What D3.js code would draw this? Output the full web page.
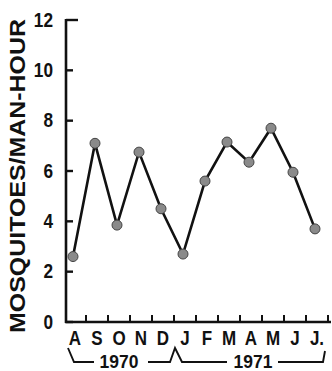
<!DOCTYPE html>
<html>
<head>
<meta charset="utf-8">
<script src="https://cdn.jsdelivr.net/npm/d3@7"></script>
<style>
  body { margin: 0; background: #fff; }
  text { font-family: "Liberation Sans", Arial, sans-serif; fill: #111; }
</style>
</head>
<body>
<script>
const months = ["A", "S", "O", "N", "D", "J", "F", "M", "A", "M", "J", "J."];
const monthKeys = ["Aug70", "Sep70", "Oct70", "Nov70", "Dec70", "Jan71", "Feb71", "Mar71", "Apr71", "May71", "Jun71", "Jul71"];
const mosquitoes = [2.6, 7.1, 3.85, 6.75, 4.5, 2.7, 5.6, 7.15, 6.35, 7.7, 5.95, 3.7];
const yTicks = [0, 2, 4, 6, 8, 10, 12];
const yearLabels = ["1970", "1971"];

const W = 332, H = 371;
const svg = d3.select("body").append("svg").attr("width", W).attr("height", H);

const x = d3.scaleBand().domain(monthKeys).range([64, 328]);
const y = d3.scaleLinear().domain([0, 12]).range([322, 20]);
const ink = "#111";

// y axis
svg.append("line")
  .attr("x1", 66).attr("x2", 66).attr("y1", y(12) - 1).attr("y2", y(0) + 1)
  .attr("stroke", ink).attr("stroke-width", 2.6);
svg.selectAll(".ytick").data(yTicks).enter().append("line")
  .attr("x1", 66).attr("x2", d => d === 12 ? 78 : 73)
  .attr("y1", d => y(d)).attr("y2", d => y(d))
  .attr("stroke", ink).attr("stroke-width", 2.4);
svg.selectAll(".ylab").data(yTicks).enter().append("text")
  .attr("transform", d => "translate(53," + (y(d) - 1) + ") scale(0.82,1)")
  .attr("dy", "0.36em")
  .attr("text-anchor", "end")
  .style("font-size", "21px").style("font-weight", "bold")
  .text(d => d);

// x axis
svg.append("line")
  .attr("x1", 65).attr("x2", 331).attr("y1", y(0)).attr("y2", y(0))
  .attr("stroke", ink).attr("stroke-width", 2.6);
svg.selectAll(".xtick").data(monthKeys).enter().append("line")
  .attr("x1", d => x(d) + x.bandwidth()).attr("x2", d => x(d) + x.bandwidth())
  .attr("y1", y(0)).attr("y2", y(0) - 7)
  .attr("stroke", ink).attr("stroke-width", 2);
svg.selectAll(".xlab").data(monthKeys).enter().append("text")
  .attr("transform", d => "translate(" + (x(d) + x.bandwidth() / 2) + ",345) scale(0.85,1)")
  .attr("text-anchor", "middle")
  .style("font-size", "20px").style("font-weight", "bold")
  .text((d, i) => months[i]);

// year brackets
const bx0 = x(monthKeys[0]) + 4, bmid = x(monthKeys[5]) + 1, bx1 = x(monthKeys[11]) + x.bandwidth() - 3;
const by = 362, btop = 348;
svg.append("path")
  .attr("d", `M${bx0},${btop} L${bx0 + 6},${by} L${bx0 + 26},${by}
              M${bmid - 27},${by} L${bmid - 5},${by} L${bmid},${btop} L${bmid + 7},${by} L${bmid + 52},${by}
              M${bmid + 103},${by} L${bx1 - 2},${by} L${bx1},${btop + 3}`)
  .attr("fill", "none").attr("stroke", ink).attr("stroke-width", 1.9);
svg.selectAll(".year").data(yearLabels).enter().append("text")
  .attr("transform", (d, i) => "translate(" + (i === 0 ? 119 : bmid + 78) + ",368) scale(0.92,1)")
  .attr("text-anchor", "middle")
  .style("font-size", "19px").style("font-weight", "bold")
  .text(d => d);

// y title
svg.append("text")
  .attr("transform", "translate(25,176) rotate(-90)")
  .attr("text-anchor", "middle")
  .attr("textLength", 314).attr("lengthAdjust", "spacingAndGlyphs")
  .style("font-size", "22px").style("font-weight", "bold")
  .text("MOSQUITOES/MAN-HOUR");

// series
const line = d3.line()
  .x((d, i) => x(monthKeys[i]) + x.bandwidth() / 2 - 2)
  .y(d => y(d));
svg.append("path").datum(mosquitoes)
  .attr("d", line)
  .attr("fill", "none").attr("stroke", ink).attr("stroke-width", 2.6);
svg.selectAll(".pt").data(mosquitoes).enter().append("circle")
  .attr("cx", (d, i) => x(monthKeys[i]) + x.bandwidth() / 2 - 2)
  .attr("cy", d => y(d))
  .attr("r", 5)
  .attr("fill", "#8a8a8a").attr("stroke", "#444").attr("stroke-width", 1);
</script>
</body>
</html>
